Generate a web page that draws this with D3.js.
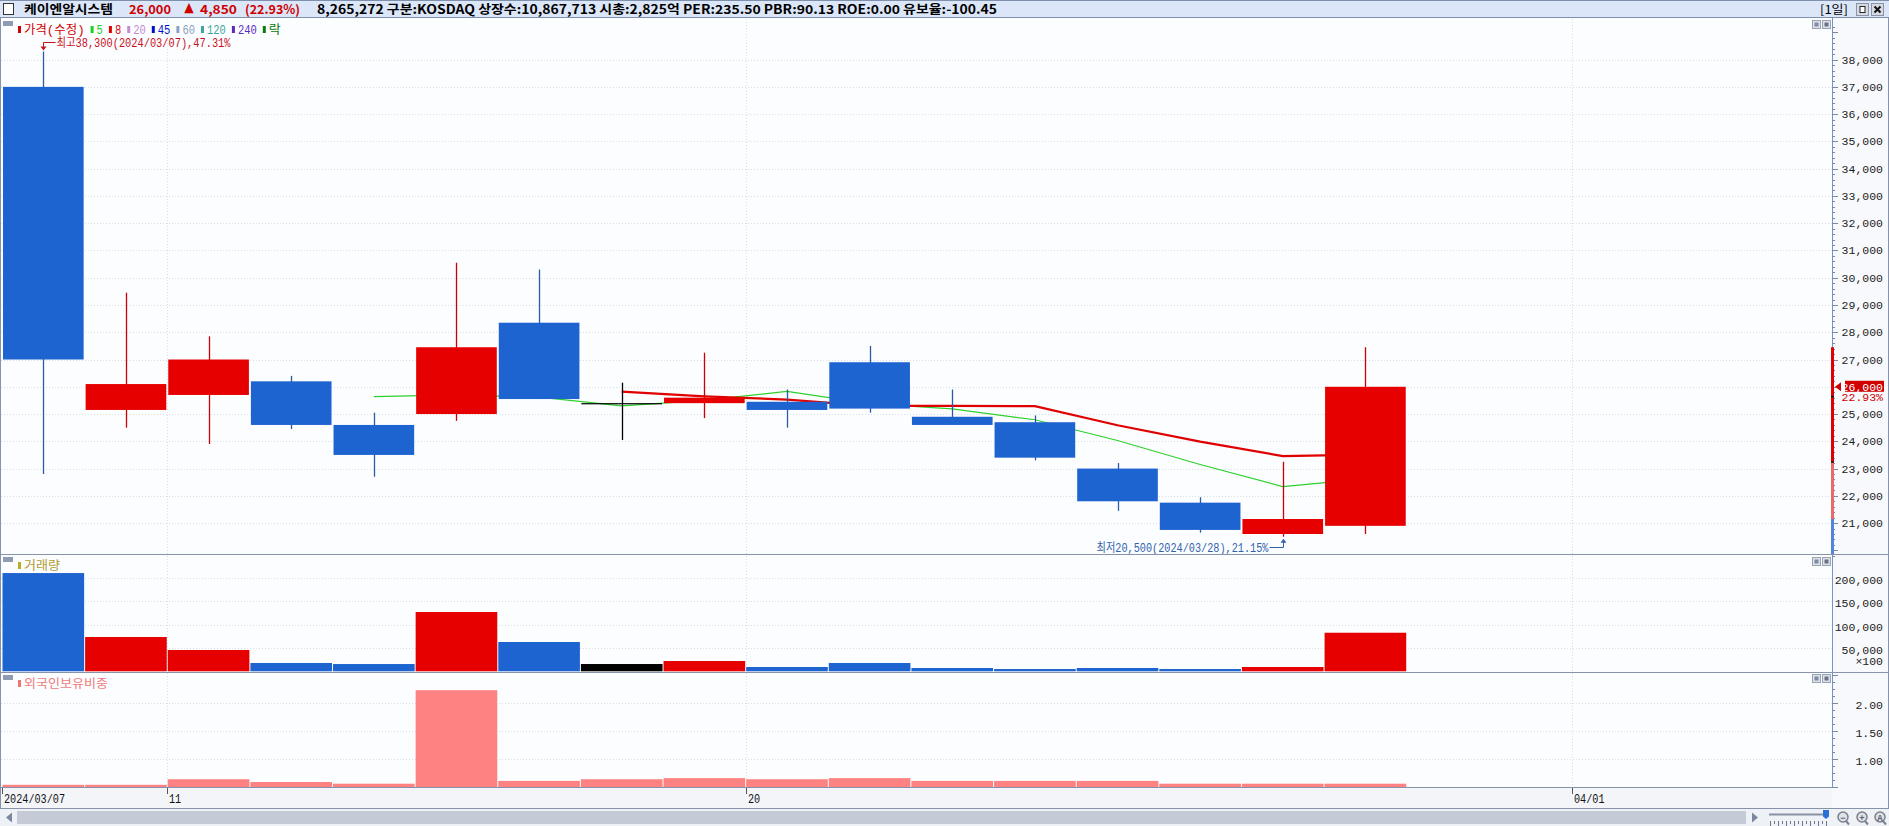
<!DOCTYPE html>
<html>
<head>
<meta charset="utf-8">
<script src="https://cdn.jsdelivr.net/npm/d3@7"></script>
<style>
  body { margin: 0; background: #fff; overflow: hidden; }
  svg { display: block; font-family: "Liberation Mono", "Noto Sans CJK KR", monospace; }
</style>
</head>
<body>
<svg id="chart" width="1889" height="826"></svg>
<script>
// ---- data ----
const stockName = '케이엔알시스템';
const lastPrice = '26,000';
const change = '4,850';
const changePct = '(22.93%)';
const infoLine = '8,265,272 구분:KOSDAQ 상장수:10,867,713 시총:2,825억 PER:235.50 PBR:90.13 ROE:0.00 유보율:-100.45';

const dates = ['03/07', '03/08', '03/11', '03/12', '03/13', '03/14', '03/15', '03/18', '03/19',
               '03/20', '03/21', '03/22', '03/25', '03/26', '03/27', '03/28', '03/29'];
const futureSlots = ['03/30', '03/31', '04/01', '04/02', '04/03'];

const opens  = [37000, 25150, 25700, 26200, 24600, 25000, 28350, 25400, 25400, 25450, 26900, 24900, 24700, 23000, 21750, 20600, 20900];
const highs  = [38300, 29450, 27850, 26400, 25050, 30550, 30300, 26150, 27250, 25900, 27500, 25900, 24950, 23200, 21950, 23250, 27450];
const lows   = [22800, 24500, 23900, 24450, 22700, 24750, 25550, 24050, 24850, 24500, 25050, 24600, 23300, 21450, 20650, 20500, 20600];
const closes = [27000, 26100, 27000, 24600, 23500, 27450, 25550, 25400, 25600, 25150, 25200, 24600, 23400, 21800, 20750, 21150, 26000];

const ma5 = [null, null, null, null, 25640, 25700, 25620, 25300, 25500, 25830, 25380, 25190, 24790, 24030, 23150, 22340, 22620];
const ma8 = [null, null, null, null, null, null, null, 25820, 25650, 25530, 25300, 25300, 25290, 24590, 23990, 23460, 23510];

const volumes = [21060000, 7350000, 4565000, 1780000, 1560000, 12710000, 6280000, 1560000, 2210000,
                 920000, 1780000, 710000, 490000, 710000, 490000, 920000, 8265272];
const foreignRatio = [0.53, 0.53, 0.63, 0.58, 0.55, 2.22, 0.60, 0.63, 0.65, 0.63, 0.65, 0.60, 0.60, 0.60, 0.55, 0.55, 0.55];

const priceTicks = [21000, 22000, 23000, 24000, 25000, 26000, 27000, 28000, 29000, 30000,
                    31000, 32000, 33000, 34000, 35000, 36000, 37000, 38000];
const volumeTicks = [5000000, 10000000, 15000000, 20000000];
const foreignTicks = [1.0, 1.5, 2.0];
const xTickDates = ['03/07', '03/11', '03/20', '04/01'];
const xTickLabels = ['2024/03/07', '11', '20', '04/01'];

const legendNames = ['가격(수정)', '5', '8', '20', '45', '60', '120', '240', '락'];
const legendColors = ['#d40000', '#1fd01f', '#e00000', '#c58ad6', '#0010c8', '#8aa0c0', '#3fa59a', '#5a2bc0', '#0a7a0a'];

const highNote = '최고38,300(2024/03/07),47.31%';
const lowNote = '최저20,500(2024/03/28),21.15%';
const upperLimit = 27450, prevClose = 21150;

// ---- layout ----
const svg = d3.select('#chart');
const W = 1889;
const plotRight = 1832;
const mainTop = 18, mainBottom = 554, volBottom = 672, forBottom = 787, axisBottom = 808;
const gridColor = '#d9dee6', lineColor = '#8793a8';
const blue = '#1e64d0', red = '#e60000';

const slots = dates.concat(futureSlots);
const step = 82.63, pad = 0.024;
const x = d3.scaleBand().domain(slots)
    .range([3, 3 + step * (slots.length - pad)])
    .paddingInner(pad).paddingOuter(0);
const cx = d => x(d) + x.bandwidth() / 2;

const y = d3.scaleLinear().domain([21000, 38000]).range([523.1, 59.6]);
const yVol = d3.scaleLinear().domain([0, 20000000]).range([671.3, 578]);
const yFor = d3.scaleLinear().domain([1, 2]).range([758.5, 702.5]);

const rows = dates.map((d, i) => ({
    date: d, open: opens[i], high: highs[i], low: lows[i], close: closes[i],
    vol: volumes[i], fr: foreignRatio[i], ma5: ma5[i], ma8: ma8[i]
}));
const bodyColor = r => r.close > r.open ? red : (r.close < r.open ? blue : '#000');
const wickColor = r => r.close > r.open ? '#cc0000' : (r.close < r.open ? '#2c5aa6' : '#000');

// ---- backgrounds ----
svg.append('rect').attr('width', W).attr('height', 826).attr('fill', '#f6f8fb');
svg.append('rect').attr('x', 0).attr('y', mainTop).attr('width', plotRight).attr('height', forBottom - mainTop).attr('fill', '#fcfdff');
svg.append('rect').attr('x', plotRight).attr('y', mainTop).attr('width', W - plotRight).attr('height', axisBottom - mainTop).attr('fill', '#f8f9fc');
svg.append('rect').attr('x', 0).attr('y', forBottom).attr('width', plotRight).attr('height', axisBottom - forBottom).attr('fill', '#f3f5f9');

// ---- header ----
const header = svg.append('g');
header.append('rect').attr('width', W).attr('height', 18).attr('fill', '#dbe6f8');
header.append('line').attr('x1', 0).attr('x2', W).attr('y1', 0.5).attr('y2', 0.5).attr('stroke', '#7f90ad');
header.append('line').attr('x1', 0).attr('x2', W).attr('y1', 17.5).attr('y2', 17.5).attr('stroke', '#7f90ad');
header.append('rect').attr('x', 3.5).attr('y', 3.5).attr('width', 10).attr('height', 11).attr('fill', '#fff').attr('stroke', '#333');

const headItems = [
    { t: stockName, x: 24, w: 89, c: '#000' },
    { t: lastPrice, x: 129, w: 42, c: '#d00000' },
    { t: '▲', x: 184, w: 10, c: '#d00000' },
    { t: change, x: 200, w: 37, c: '#d00000' },
    { t: changePct, x: 245, w: 55, c: '#d00000' },
    { t: infoLine, x: 317, w: 680, c: '#000' }
];
header.selectAll('text.head').data(headItems).join('text')
    .attr('class', 'head')
    .attr('x', d => d.x).attr('y', 14)
    .attr('textLength', d => d.w).attr('lengthAdjust', 'spacingAndGlyphs')
    .style('font-family', '"Noto Sans CJK KR", sans-serif')
    .style('font-size', '12.5px').style('font-weight', 'bold')
    .attr('fill', d => d.c)
    .text(d => d.t);

header.append('text').attr('x', 1820).attr('y', 14).attr('textLength', 28).attr('lengthAdjust', 'spacingAndGlyphs')
    .style('font-family', '"Noto Sans CJK KR", sans-serif').style('font-size', '12px').text('[1일]');
[1856.5, 1871.5].forEach((bx, i) => {
    header.append('rect').attr('x', bx).attr('y', 3.5).attr('width', 12).attr('height', 12)
        .attr('fill', '#d4d9e2').attr('stroke', '#8a94a6');
    if (i === 0) {
        header.append('rect').attr('x', bx + 3.5).attr('y', 6.5).attr('width', 5).attr('height', 6).attr('fill', '#fff').attr('stroke', '#222');
    } else {
        header.append('path').attr('d', `M${bx + 3},${6.5}L${bx + 9},${12.5}M${bx + 9},${6.5}L${bx + 3},${12.5}`)
            .attr('stroke', '#111').attr('stroke-width', 2);
    }
});

// ---- grid ----
const grid = svg.append('g').attr('stroke', gridColor).attr('stroke-dasharray', '1,2');
grid.selectAll('line.hp').data(priceTicks).join('line')
    .attr('x1', 1).attr('x2', plotRight).attr('y1', d => Math.round(y(d)) + 0.5).attr('y2', d => Math.round(y(d)) + 0.5);
grid.selectAll('line.hv').data(volumeTicks).join('line').attr('class', 'hv')
    .attr('x1', 1).attr('x2', plotRight).attr('y1', d => Math.round(yVol(d)) + 0.5).attr('y2', d => Math.round(yVol(d)) + 0.5);
grid.selectAll('line.hf').data(foreignTicks).join('line').attr('class', 'hf')
    .attr('x1', 1).attr('x2', plotRight).attr('y1', d => Math.round(yFor(d)) + 0.5).attr('y2', d => Math.round(yFor(d)) + 0.5);
grid.selectAll('line.vx').data(xTickDates.slice(1)).join('line').attr('class', 'vx')
    .attr('x1', d => Math.round(x(d)) - 0.5).attr('x2', d => Math.round(x(d)) - 0.5)
    .attr('y1', mainTop + 1).attr('y2', forBottom);

// ---- moving averages (behind candles) ----
const maLine = key => d3.line().defined(r => r[key] != null).x(r => cx(r.date)).y(r => y(r[key]));
svg.append('path').datum(rows).attr('d', maLine('ma5')).attr('fill', 'none').attr('stroke', '#2ed12e').attr('stroke-width', 1.2);
svg.append('path').datum(rows).attr('d', maLine('ma8')).attr('fill', 'none').attr('stroke', '#e00000').attr('stroke-width', 2.2);

// ---- candles ----
const candles = svg.append('g').selectAll('g').data(rows).join('g');
candles.append('line')
    .attr('x1', r => Math.round(cx(r.date)) + 0.5).attr('x2', r => Math.round(cx(r.date)) + 0.5)
    .attr('y1', r => y(r.high)).attr('y2', r => y(r.low))
    .attr('stroke', wickColor).attr('stroke-width', 1.3);
candles.append('rect')
    .attr('x', r => x(r.date)).attr('width', x.bandwidth())
    .attr('y', r => y(Math.max(r.open, r.close)))
    .attr('height', r => Math.max(1.2, y(Math.min(r.open, r.close)) - y(Math.max(r.open, r.close))))
    .attr('fill', bodyColor);

// ---- high / low notes ----
const hi = rows[d3.maxIndex(rows, r => r.high)];
const lo = rows[d3.minIndex(rows, r => r.low)];
const hx = Math.round(cx(hi.date)) + 0.5;
svg.append('path').attr('d', `M${hx + 12},42.5H${hx}V${y(hi.high) - 2}`).attr('fill', 'none').attr('stroke', '#c8101c');
svg.append('path').attr('d', `M${hx - 3},${y(hi.high) - 5}L${hx + 3},${y(hi.high) - 5}L${hx},${y(hi.high) - 1}Z`).attr('fill', '#c8101c');
svg.append('text').attr('x', hx + 13).attr('y', 47).attr('textLength', 174).attr('lengthAdjust', 'spacingAndGlyphs')
    .style('font-size', '12px').attr('fill', '#c8101c').text(highNote);

const lx = Math.round(cx(lo.date)) + 0.5;
svg.append('path').attr('d', `M${lx - 14},547.5H${lx}V${y(lo.low) + 4}`).attr('fill', 'none').attr('stroke', '#2f62ad');
svg.append('path').attr('d', `M${lx - 3},${y(lo.low) + 6}L${lx + 3},${y(lo.low) + 6}L${lx},${y(lo.low) + 2}Z`).attr('fill', '#2f62ad');
svg.append('text').attr('x', lx - 187).attr('y', 552).attr('textLength', 172).attr('lengthAdjust', 'spacingAndGlyphs')
    .style('font-size', '12px').attr('fill', '#2f62ad').text(lowNote);

// ---- volume & foreign bars ----
svg.append('g').selectAll('rect').data(rows).join('rect')
    .attr('x', r => x(r.date) - 0.5).attr('width', step - 1)
    .attr('y', r => yVol(r.vol)).attr('height', r => yVol(0) - yVol(r.vol))
    .attr('fill', bodyColor);
svg.append('g').selectAll('rect').data(rows).join('rect')
    .attr('x', r => x(r.date) - 0.5).attr('width', step - 1)
    .attr('y', r => yFor(r.fr)).attr('height', r => forBottom - yFor(r.fr))
    .attr('fill', '#ff8282');

// ---- panel separators & frame ----
const seps = svg.append('g').attr('stroke', lineColor);
[mainBottom, volBottom].forEach(v => seps.append('line').attr('x1', 0).attr('x2', W).attr('y1', v + 0.5).attr('y2', v + 0.5));
seps.append('line').attr('x1', 0).attr('x2', plotRight).attr('y1', forBottom + 0.5).attr('y2', forBottom + 0.5);
seps.append('line').attr('x1', 0).attr('x2', W).attr('y1', axisBottom + 0.5).attr('y2', axisBottom + 0.5);
seps.append('line').attr('x1', 0.5).attr('x2', 0.5).attr('y1', mainTop).attr('y2', axisBottom);
seps.append('line').attr('x1', W - 0.5).attr('x2', W - 0.5).attr('y1', mainTop).attr('y2', axisBottom);

// ---- legends ----
const hangul = /[\u3131-\uD79D]/;
const gw = s => Array.from(s).reduce((w, ch) => w + (hangul.test(ch) ? 12 : 6.3), 0);
let lxPos = 18;
legendNames.forEach((n, i) => {
    svg.append('rect').attr('x', lxPos).attr('y', 26).attr('width', 3).attr('height', 7).attr('fill', legendColors[i]);
    svg.append('text').attr('x', lxPos + 6).attr('y', 33.5).attr('textLength', gw(n)).attr('lengthAdjust', 'spacingAndGlyphs')
        .style('font-size', '12px').attr('fill', legendColors[i]).text(n);
    lxPos += 6 + gw(n) + 6;
});
svg.append('rect').attr('x', 18).attr('y', 562).attr('width', 3).attr('height', 7).attr('fill', '#b8b020');
svg.append('text').attr('x', 24).attr('y', 569.5).attr('textLength', gw('거래량')).attr('lengthAdjust', 'spacingAndGlyphs')
    .style('font-size', '12px').attr('fill', '#b09a30').text('거래량');
svg.append('rect').attr('x', 18).attr('y', 680).attr('width', 3).attr('height', 7).attr('fill', '#f07474');
svg.append('text').attr('x', 24).attr('y', 687.5).attr('textLength', gw('외국인보유비중')).attr('lengthAdjust', 'spacingAndGlyphs')
    .style('font-size', '12px').attr('fill', '#f07c7c').text('외국인보유비중');

// panel icons
[[21, 5], [557, 5], [675, 5]].forEach(([py, h]) => {
    svg.append('rect').attr('x', 3).attr('y', py).attr('width', 10).attr('height', h).attr('fill', '#8e9bb2');
});
[24, 561, 678].forEach(py => {
    [1812, 1822].forEach((bx, i) => {
        svg.append('rect').attr('x', bx + 0.5).attr('y', py - 3.5).attr('width', 8).attr('height', 8)
            .attr('fill', '#dde1e8').attr('stroke', '#9aa3b3');
        svg.append('rect').attr('x', bx + 2.5).attr('y', py - 1.5).attr('width', 4).attr('height', 4)
            .attr('fill', i === 0 ? '#7f8aa0' : '#6a7386');
    });
});

// ---- right axes ----
const axisG = svg.append('g');
axisG.append('line').attr('x1', plotRight + 0.5).attr('x2', plotRight + 0.5).attr('y1', mainTop).attr('y2', forBottom)
    .attr('stroke', '#7195c8');
const minorPrice = d3.range(19800, 39400, 200);
axisG.selectAll('line.mp').data(minorPrice).join('line')
    .attr('x1', plotRight).attr('x2', d => plotRight + (d % 1000 === 0 ? 6 : 3))
    .attr('y1', d => Math.round(y(d)) + 0.5).attr('y2', d => Math.round(y(d)) + 0.5)
    .attr('stroke', '#7a8aa3');
const minorVol = d3.range(0, 25000000, 1250000).filter(v => yVol(v) > volBottom + 2);
axisG.selectAll('line.mv').data(minorVol).join('line')
    .attr('x1', plotRight).attr('x2', d => plotRight + (d % 5000000 === 0 ? 6 : 3))
    .attr('y1', d => Math.round(yVol(d)) + 0.5).attr('y2', d => Math.round(yVol(d)) + 0.5)
    .attr('stroke', '#7a8aa3');
const minorFor = d3.range(0.5, 2.6, 0.125).filter(v => yFor(v) > volBottom + 2 && yFor(v) < forBottom);
axisG.selectAll('line.mf').data(minorFor).join('line')
    .attr('x1', plotRight).attr('x2', d => plotRight + (Math.abs(d * 2 - Math.round(d * 2)) < 1e-6 ? 6 : 3))
    .attr('y1', d => Math.round(yFor(d)) + 0.5).attr('y2', d => Math.round(yFor(d)) + 0.5)
    .attr('stroke', '#7a8aa3');

const fmt = d3.format(',');
const axisText = (sel) => sel.attr('x', 1883).attr('text-anchor', 'end').style('font-size', '11.5px').attr('fill', '#222');
axisG.selectAll('text.pt').data(priceTicks.filter(p => p !== 26000)).join('text').call(axisText)
    .attr('y', d => y(d) + 4).text(d => fmt(d));
axisG.selectAll('text.vt').data(volumeTicks).join('text').call(axisText)
    .attr('y', d => yVol(d) + 6).text(d => fmt(d / 100));
axisG.append('text').call(axisText).attr('y', 665).text('×100');
axisG.selectAll('text.ft').data(foreignTicks).join('text').call(axisText)
    .attr('y', d => yFor(d) + 6).text(d => d.toFixed(2));

// price range bar on axis
const rb = axisG.append('g');
rb.append('rect').attr('x', plotRight - 1).attr('width', 3).attr('y', y(upperLimit)).attr('height', y(23250) - y(upperLimit)).attr('fill', '#e00000');
rb.append('rect').attr('x', plotRight - 1).attr('width', 3).attr('y', y(23250)).attr('height', y(prevClose) - y(23250)).attr('fill', '#e86a6a');
rb.append('rect').attr('x', plotRight - 1).attr('width', 3).attr('y', y(prevClose)).attr('height', mainBottom - y(prevClose)).attr('fill', '#4f86d8');
[25650, 23250].forEach(p => rb.append('rect').attr('x', plotRight - 1).attr('width', 3).attr('y', y(p) - 0.5).attr('height', 1.5).attr('fill', '#111'));

// current price marker
const cy = y(closes[closes.length - 1]);
axisG.append('path').attr('d', `M${plotRight + 3},${cy}L${plotRight + 9},${cy - 4.5}L${plotRight + 9},${cy + 4.5}Z`).attr('fill', '#d00000');
axisG.append('rect').attr('x', 1845).attr('y', cy - 6).attr('width', 39).attr('height', 11).attr('fill', '#d00000');
axisG.append('text').call(axisText).attr('y', cy + 4).attr('fill', '#fff').text(lastPrice);
axisG.append('text').call(axisText).attr('y', cy + 14).attr('fill', '#d00000').text(changePct.replace(/[()]/g, ''));

// ---- x axis ----
const xg = svg.append('g');
xTickDates.forEach((d, i) => {
    const tx = Math.round(x(d)) - 0.5;
    xg.append('line').attr('x1', tx).attr('x2', tx).attr('y1', forBottom + 1).attr('y2', forBottom + 7).attr('stroke', '#555');
    xg.append('text').attr('x', tx + 1.5).attr('y', 802.5).style('font-size', '12px')
        .attr('textLength', xTickLabels[i].length * 6.1).attr('lengthAdjust', 'spacingAndGlyphs')
        .attr('fill', '#111').text(xTickLabels[i]);
});

// ---- scrollbar ----
const sb = svg.append('g');
sb.append('rect').attr('x', 0).attr('y', 809).attr('width', W).attr('height', 17).attr('fill', '#eef1f5');
sb.append('rect').attr('x', 17).attr('y', 811).attr('width', 1729).attr('height', 13).attr('fill', '#c5cbd6');
sb.append('path').attr('d', 'M6,817.5L12,812.5L12,822.5Z').attr('fill', '#7b87a0');
sb.append('path').attr('d', 'M1752,812.5L1758,817.5L1752,822.5Z').attr('fill', '#7b87a0');
sb.append('line').attr('x1', 1769).attr('x2', 1826).attr('y1', 814.5).attr('y2', 814.5).attr('stroke', '#8a93a5').attr('stroke-width', 2);
sb.selectAll('line.rt').data(d3.range(1770, 1830, 4)).join('line')
    .attr('x1', d => d + 0.5).attr('x2', d => d + 0.5).attr('y1', 821).attr('y2', d => (d % 8 === 2 ? 826 : 824))
    .attr('stroke', '#6f7888');
sb.append('path').attr('d', 'M1823,810H1829V816.5L1826,819L1823,816.5Z').attr('fill', '#2b70d8');
[['−', 1843], ['+', 1862], ['A', 1880]].forEach(([g, mx]) => {
    sb.append('line').attr('x1', mx + 3).attr('y1', 821).attr('x2', mx + 6).attr('y2', 824.5).attr('stroke', '#7a808c').attr('stroke-width', 2);
    sb.append('circle').attr('cx', mx).attr('cy', 817).attr('r', 5).attr('fill', '#dfe2e8').attr('stroke', '#7a808c').attr('stroke-width', 1.5);
    sb.append('text').attr('x', mx).attr('y', 820.5).attr('text-anchor', 'middle').style('font-size', '9px').style('font-weight', 'bold')
        .attr('fill', '#5d6470').text(g);
});
</script>
</body>
</html>
